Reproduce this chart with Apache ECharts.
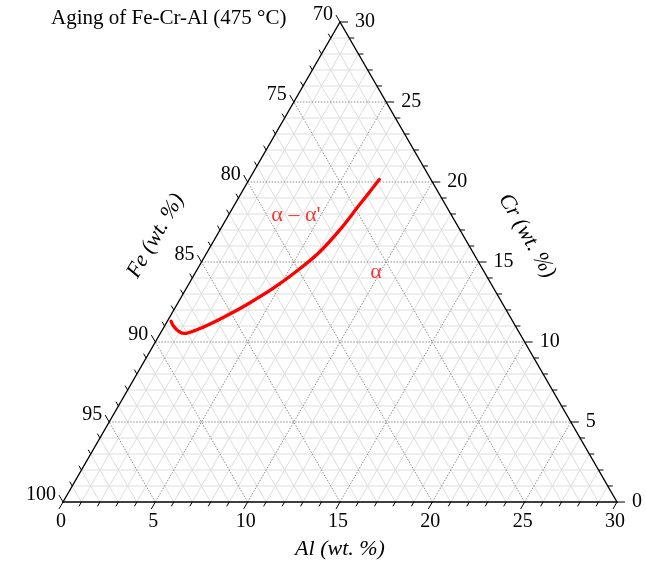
<!DOCTYPE html>
<html>
<head>
<meta charset="utf-8">
<script src="https://cdn.jsdelivr.net/npm/echarts@6/dist/echarts.min.js"></script>
<style>
  html, body { margin: 0; padding: 0; background: #fff; }
  #chart { width: 646px; height: 562px; }
</style>
</head>
<body>
<div id="chart"></div>
<script>
// Ternary section of the Fe-Cr-Al system: Fe 70-100, Cr 0-30, Al 0-30 (wt. %)
const chartTitle = 'Aging of Fe-Cr-Al (475 °C)';
const span = 30;                       // width of each composition axis
const alTicks = [0, 5, 10, 15, 20, 25, 30];
const crTicks = [0, 5, 10, 15, 20, 25, 30];
const feTicks = [100, 95, 90, 85, 80, 75, 70];

// α / α–α' boundary, as (Al, Cr) wt. % pairs
const boundaryAl = [7.05, 6.75, 6.49, 6.09, 5.48, 4.71, 3.78, 2.91, 2.13, 1.39, 0.88, 0.45, 0.20];
const boundaryCr = [20.16, 18.48, 17.02, 15.64, 14.48, 13.36, 12.33, 11.53, 10.93, 10.54, 10.70, 11.03, 11.30];

// phase-field names and where they sit (Al, Cr)
const regionNames = ['α – α\'', 'α'];
const regionAl = [3.66, 9.78];
const regionCr = [17.9, 14.34];

const SQ = Math.sqrt(3) / 2;
// (Al, Cr) -> cartesian data coordinates of the equilateral triangle
function tern(al, cr) { return [al + cr / 2, cr * SQ]; }

const FONT = '"Liberation Serif", "Times New Roman", serif';

// grid lines in the three composition directions
const gridLines = [];
for (let k = 1; k < span; k++) {
  const major = k % 5 === 0 ? 1 : 0;
  gridLines.push([0, k, span - k, k, major]);          // constant Cr
  gridLines.push([k, 0, k, span - k, major]);          // constant Al
  gridLines.push([k, 0, 0, k, major]);                 // constant Fe
}
const edges = [[0, 0, span, 0], [span, 0, 0, span], [0, span, 0, 0]];

// tick marks: anchor (Al, Cr), side id, major flag
const ticks = [];
for (let k = 0; k <= span; k++) {
  const major = k % 5 === 0 ? 1 : 0;
  ticks.push([k, 0, 0, major]);                        // Al axis (bottom)
  ticks.push([span - k, k, 1, major]);                 // Cr axis (right)
  ticks.push([0, k, 2, major]);                        // Fe axis (left)
}
// outward tick directions in screen space
const tickDir = [[-0.5, SQ], [1, 0], [-0.5, -SQ]];

const labelItems = [];
alTicks.forEach(v => labelItems.push([v, 0, 0, String(v)]));
crTicks.forEach(v => labelItems.push([span - v, v, 1, String(v)]));
feTicks.forEach(v => labelItems.push([0, 100 - v, 2, String(v)]));

// Catmull-Rom spline through pixel points, written as SVG path data
function splinePath(pts) {
  let d = 'M' + pts[0][0] + ' ' + pts[0][1];
  for (let i = 0; i < pts.length - 1; i++) {
    const p0 = pts[Math.max(i - 1, 0)];
    const p1 = pts[i];
    const p2 = pts[i + 1];
    const p3 = pts[Math.min(i + 2, pts.length - 1)];
    const c1x = p1[0] + (p2[0] - p0[0]) / 6, c1y = p1[1] + (p2[1] - p0[1]) / 6;
    const c2x = p2[0] - (p3[0] - p1[0]) / 6, c2y = p2[1] - (p3[1] - p1[1]) / 6;
    d += ' C' + c1x + ' ' + c1y + ' ' + c2x + ' ' + c2y + ' ' + p2[0] + ' ' + p2[1];
  }
  return d;
}

const chart = echarts.init(document.getElementById('chart'), null, { renderer: 'canvas' });

const option = {
  animation: false,
  backgroundColor: '#fff',
  grid: { left: 63, right: 29, top: 22, bottom: 60 },
  xAxis: { type: 'value', min: 0, max: span, show: false },
  yAxis: { type: 'value', min: 0, max: span * SQ, show: false },
  graphic: [{
    type: 'text', left: 51, top: 8,
    style: { text: chartTitle, font: '21px ' + FONT, fill: '#000' }
  }],
  series: [
    {
      type: 'custom', name: 'grid', silent: true, z: 1,
      data: gridLines,
      renderItem(params, api) {
        const a = api.coord(tern(api.value(0), api.value(1)));
        const b = api.coord(tern(api.value(2), api.value(3)));
        const major = api.value(4) === 1;
        return {
          type: 'line',
          shape: { x1: a[0], y1: a[1], x2: b[0], y2: b[1] },
          style: major
            ? { stroke: '#8a8a8a', lineWidth: 1, lineDash: [1.5, 1.5] }
            : { stroke: '#dedede', lineWidth: 1 },
          z2: major ? 2 : 1
        };
      }
    },
    {
      type: 'custom', name: 'frame', silent: true, z: 3,
      data: edges,
      renderItem(params, api) {
        const a = api.coord(tern(api.value(0), api.value(1)));
        const b = api.coord(tern(api.value(2), api.value(3)));
        return {
          type: 'line',
          shape: { x1: a[0], y1: a[1], x2: b[0], y2: b[1] },
          style: { stroke: '#000', lineWidth: 1.4, lineCap: 'round' }
        };
      }
    },
    {
      type: 'custom', name: 'ticks', silent: true, z: 3,
      data: ticks,
      renderItem(params, api) {
        const p = api.coord(tern(api.value(0), api.value(1)));
        const d = tickDir[api.value(2)];
        const len = api.value(3) === 1 ? 8 : 5;
        return {
          type: 'line',
          shape: { x1: p[0], y1: p[1], x2: p[0] + d[0] * len, y2: p[1] + d[1] * len },
          style: { stroke: '#000', lineWidth: 1 }
        };
      }
    },
    {
      type: 'custom', name: 'tickLabels', silent: true, z: 4,
      data: labelItems,
      renderItem(params, api) {
        const p = api.coord(tern(api.value(0), api.value(1)));
        const side = api.value(2);
        const d = tickDir[side];
        const e = [p[0] + d[0] * 8, p[1] + d[1] * 8];
        const txt = labelItems[params.dataIndex][3];
        let x, y, align, vAlign;
        if (side === 0) { x = p[0] - 2; y = e[1] + 3; align = 'center'; vAlign = 'top'; }
        else if (side === 1) { x = e[0] + 7; y = e[1]; align = 'left'; vAlign = 'middle'; }
        else { x = e[0] - 3; y = e[1]; align = 'right'; vAlign = 'middle'; }
        return {
          type: 'text',
          x: x, y: y,
          style: { text: txt, font: '20px ' + FONT, fill: '#000', align: align, verticalAlign: vAlign }
        };
      }
    },
    {
      type: 'custom', name: 'axisTitles', silent: true, z: 4,
      data: [[span / 2, 0, 0], [span / 2, span / 2, 1], [0, span / 2, 2]],
      renderItem(params, api) {
        const p = api.coord(tern(api.value(0), api.value(1)));
        const side = api.value(2);
        const texts = ['Al (wt. %)', 'Cr (wt. %)', 'Fe (wt. %)'];
        let x, y, rot;
        if (side === 0) { x = p[0]; y = p[1] + 47; rot = 0; }
        else if (side === 1) { x = p[0] + 0.866 * 56; y = p[1] - 0.5 * 56 + 2; rot = -Math.PI / 3; }
        else { x = p[0] - 0.866 * 54 + 1; y = p[1] - 0.5 * 54 + 1; rot = Math.PI / 3; }
        return {
          type: 'text',
          x: x, y: y, rotation: rot,
          style: {
            text: texts[side], font: 'italic 22px ' + FONT, fill: '#000',
            align: 'center', verticalAlign: 'middle'
          }
        };
      }
    },
    {
      // phase boundary, drawn as a smooth spline through the (Al, Cr) points
      type: 'custom', name: 'boundary', silent: true, z: 5,
      data: boundaryAl.map((a, i) => tern(a, boundaryCr[i])),
      renderItem(params, api) {
        if (params.dataIndex !== 0) return null;
        const pts = boundaryAl.map((a, i) => api.coord(tern(a, boundaryCr[i])));
        return {
          type: 'path',
          shape: { pathData: splinePath(pts) },
          style: { fill: 'none', stroke: '#ff0000', lineWidth: 3.3, lineCap: 'round', lineJoin: 'round' }
        };
      }
    },
    {
      type: 'scatter', name: 'regions', z: 5, silent: true,
      data: regionAl.map((a, i) => tern(a, regionCr[i])),
      symbolSize: 0,
      label: {
        show: true, position: 'inside',
        formatter: p => regionNames[p.dataIndex],
        color: '#ff0000', fontSize: 22, fontFamily: FONT
      }
    }
  ]
};

chart.setOption(option);
</script>
</body>
</html>
